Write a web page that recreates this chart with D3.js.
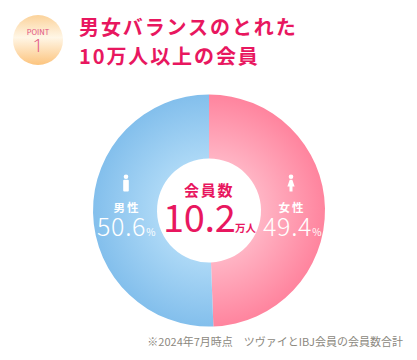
<!DOCTYPE html>
<html>
<head>
<meta charset="utf-8">
<script src="https://cdn.jsdelivr.net/npm/d3@7"></script>
<style>
html, body { margin: 0; padding: 0; background: #fff; }
svg { display: block; }
text { font-family: "Noto Sans CJK JP", sans-serif; }
</style>
</head>
<body>
<svg id="chart" width="417" height="360"></svg>
<script>
var categories = ['女性', '男性'];
var shares = [49.4, 50.6];
var shareLabels = ['49.4', '50.6'];
var titleLines = ['男女バランスのとれた', '10万人以上の会員'];
var centerLabel = '会員数';
var centerValue = '10.2';
var centerUnit = '万人';
var footnote = '※2024年7月時点　ツヴァイとIBJ会員の会員数合計';

var CX = 209, CY = 210.5, R_OUT = 116, R_IN = 52;
var PINK = '#e8175f';

var svg = d3.select('#chart');
var defs = svg.append('defs');

// gradient coords are in the donut group's space, so centred on 0,0
function radial(id, inner, outer) {
    var g = defs.append('radialGradient').attr('id', id)
        .attr('gradientUnits', 'userSpaceOnUse')
        .attr('cx', 0).attr('cy', 0).attr('r', R_OUT);
    g.append('stop').attr('offset', '45%').attr('stop-color', inner);
    g.append('stop').attr('offset', '100%').attr('stop-color', outer);
}
radial('gradF', '#ffb4c4', '#ff849e');
radial('gradM', '#acd8f6', '#83bfec');

var badge = defs.append('linearGradient').attr('id', 'gradBadge')
    .attr('x1', 0).attr('x2', 0).attr('y1', 0).attr('y2', 1);
badge.append('stop').attr('offset', '0%').attr('stop-color', '#fbd29a');
badge.append('stop').attr('offset', '45%').attr('stop-color', '#fff6e6');
badge.append('stop').attr('offset', '100%').attr('stop-color', '#fcc47e');

// header
svg.append('circle').attr('cx', 38).attr('cy', 40).attr('r', 25)
    .style('fill', 'url(#gradBadge)');
svg.append('text').attr('x', 38).attr('y', 35).attr('text-anchor', 'middle')
    .style('font-size', '7.5px').style('fill', '#e0507f').text('POINT');
svg.append('text').attr('x', 38).attr('y', 52).attr('text-anchor', 'middle')
    .style('font-family', '"Open Sans", sans-serif')
    .style('font-size', '19px').style('font-weight', 300).style('fill', '#e0507f').text('1');

svg.selectAll('text.title').data(titleLines).enter()
    .append('text').attr('class', 'title')
    .attr('x', 79)
    .attr('y', function(d, i) { return 35 + i * 29; })
    .style('font-size', '20px').style('font-weight', 700)
    .style('letter-spacing', '1.9px').style('fill', PINK)
    .text(function(d) { return d; });

// donut
var pie = d3.pie().sort(null);
var arc = d3.arc().innerRadius(R_IN).outerRadius(R_OUT);
svg.append('g').attr('transform', 'translate(' + CX + ',' + CY + ')')
    .selectAll('path').data(pie(shares)).enter()
    .append('path')
    .attr('d', arc)
    .style('fill', function(d, i) { return i == 0 ? 'url(#gradF)' : 'url(#gradM)'; });

// person icons
function female(g) {
    g.append('circle').attr('cx', 0).attr('cy', -6.2).attr('r', 2.3).style('fill', '#fff');
    g.append('path').attr('d', 'M-1.3,-3.2 L1.3,-3.2 L3.6,3.5 L1.5,3.5 L1.5,8.5 L-1.5,8.5 L-1.5,3.5 L-3.6,3.5 Z').style('fill', '#fff');
}
function male(g) {
    g.append('circle').attr('cx', 0).attr('cy', -6.2).attr('r', 2.3).style('fill', '#fff');
    g.append('rect').attr('x', -2.8).attr('y', -3.2).attr('width', 5.6).attr('height', 11.7).attr('rx', 1).style('fill', '#fff');
}
female(svg.append('g').attr('transform', 'translate(291,183)'));
male(svg.append('g').attr('transform', 'translate(126,183)'));

// slice labels
var labelX = [292, 127];
svg.selectAll('text.cat').data(categories).enter()
    .append('text').attr('class', 'cat')
    .attr('x', function(d, i) { return labelX[i]; })
    .attr('y', 211.5).attr('text-anchor', 'middle')
    .style('font-size', '11.5px').style('font-weight', 700)
    .style('letter-spacing', '2px').style('fill', '#fff')
    .text(function(d) { return d; });

var pctX = [263, 97];
var pctText = svg.selectAll('text.pct').data(shareLabels).enter()
    .append('text').attr('class', 'pct')
    .attr('x', function(d, i) { return pctX[i]; })
    .attr('y', 236)
    .style('fill', '#fff').style('font-size', '25px').style('font-weight', 300)
    .style('letter-spacing', '0.7px');
pctText.append('tspan').text(function(d) { return d; });
pctText.append('tspan').style('font-size', '10px').style('font-weight', 400).text('%');

// center
svg.append('text').attr('x', 184).attr('y', 196)
    .style('font-size', '15px').style('font-weight', 700).style('letter-spacing', '1.7px')
    .style('fill', PINK).text(centerLabel);
svg.append('text').attr('x', 163).attr('y', 232)
    .style('font-size', '38px').style('font-weight', 400)
    .style('letter-spacing', '-0.3px')
    .style('fill', PINK).text(centerValue);
svg.append('text').attr('x', 235).attr('y', 232)
    .style('font-size', '10.5px').style('font-weight', 700)
    .style('fill', PINK).text(centerUnit);

svg.append('text').attr('x', 403).attr('y', 346).attr('text-anchor', 'end')
    .style('font-size', '11px').style('fill', '#8c8880').text(footnote);
</script>
</body>
</html>
